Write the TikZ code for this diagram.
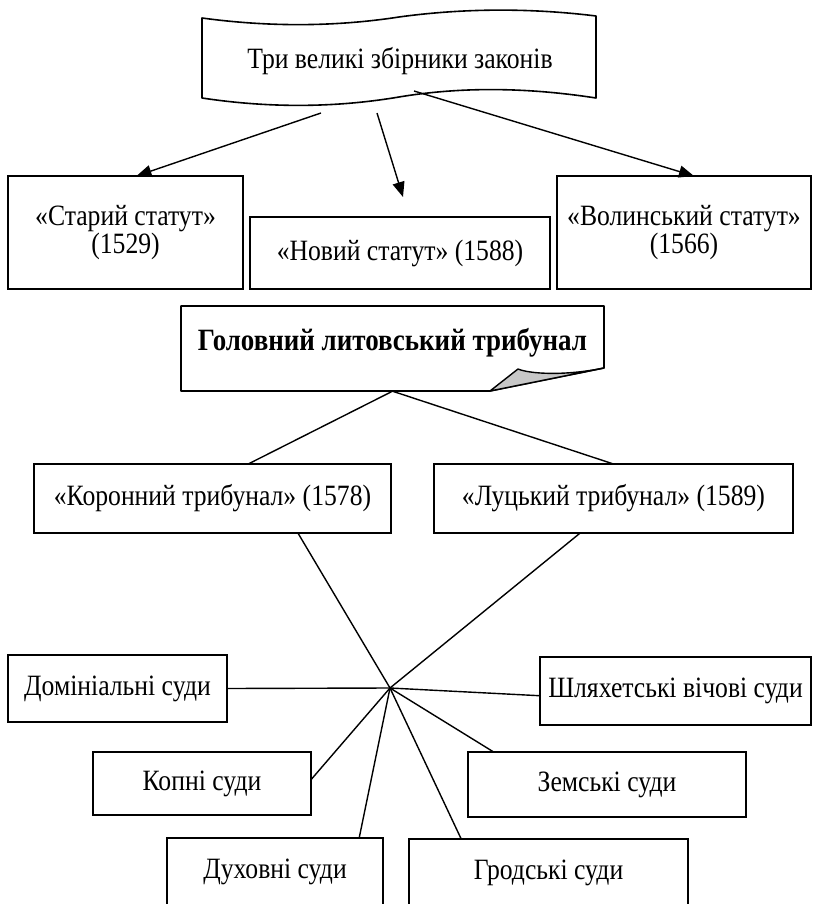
\documentclass[tikz,border=0pt]{standalone}
\usepackage{fontspec}
\setmainfont{Liberation Serif}[FakeStretch=0.87]
\usetikzlibrary{arrows.meta,calc}
\begin{document}
\begin{tikzpicture}[x=1pt,y=-1pt,
  txt/.style={font=\fontsize{29.5}{24}\selectfont, align=center},
  box/.style={draw, line width=1.6pt, rectangle, inner sep=0pt, outer sep=0pt, txt},
  shapeline/.style={line width=1.6pt, line join=round},
  conn/.style={line width=1.4pt},
  arr/.style={line width=1.4pt, -{Triangle[length=15pt,width=12pt]}},
  fold/.style={line width=1.4pt, fill=black!22, line join=round}
]
\useasboundingbox (0,0) rectangle (812,904);

% --- wavy banner
\draw[shapeline] (202,18) .. controls (268,27) and (334,27) .. (399,17)
  .. controls (465,8) and (531,8) .. (596,16) -- (596,98)
  .. controls (531,88) and (465,86) .. (399,97)
  .. controls (334,108) and (268,108) .. (202,98) -- cycle;
\node[txt] (banner) at (400,61) {Три великі збірники законів};

% --- statutes
\node[box, minimum width=235pt, minimum height=113pt] (old) at (125.5,232.5) {«Старий статут»\\(1529)};
\node[box, minimum width=300pt, minimum height=72pt] (new) at (400,253) {«Новий статут» (1588)};
\node[box, minimum width=254pt, minimum height=113pt] (vol) at (684,232.5) {«Волинський статут»\\(1566)};

\coordinate (s1) at (321,113);
\coordinate (s2) at (377,113);
\coordinate (e2) at (403,197);
\coordinate (s3) at (414,91);
\draw[arr] (s1) -- (old.79.5);
\draw[arr] (s2) -- (e2);
\draw[arr] (s3) -- (vol.80);

% --- main tribunal (note with folded corner)
\node[inner sep=0pt, minimum width=423pt, minimum height=96pt, font=\fontsize{31}{24}\selectfont\bfseries] (head) at (392.5,343) {Головний литовський трибунал};
\draw[shapeline] (181,306) -- (604,306) -- (604,368) -- (490,391) -- (181,391) -- cycle;
\draw[fold] (490,391) -- (518,369) .. controls (530,374) and (565,376) .. (604,368) -- cycle;

% --- tribunals
\node[box, minimum width=357pt, minimum height=69pt] (kor) at (212.5,498.5) {«Коронний трибунал» (1578)};
\node[box, minimum width=359pt, minimum height=69pt] (luc) at (613.5,498.5) {«Луцький трибунал» (1589)};
\draw[conn] (head.south) -- (kor.44);
\draw[conn] (head.south) -- (luc.north);

% --- courts
\coordinate (hub) at (390,688);
\node[box, minimum width=219pt, minimum height=67pt] (dom) at (117.5,688.5) {Домініальні суди};
\node[box, minimum width=271pt, minimum height=68pt] (shl) at (675.5,691) {Шляхетські вічові суди};
\node[box, minimum width=218pt, minimum height=63pt] (kop) at (202,783.5) {Копні суди};
\node[box, minimum width=278pt, minimum height=65pt] (zem) at (607,784.5) {Земські суди};
\node[box, minimum width=216pt, minimum height=68pt] (duh) at (275,872) {Духовні суди};
\node[box, minimum width=279pt, minimum height=67pt] (grod) at (548.5,872.5) {Гродські суди};

\draw[conn] (kor.-22) -- (hub);
\draw[conn] (luc.-134) -- (hub);
\draw[conn] (dom.east) -- (hub);
\draw[conn] (hub) -- (shl.182.5);
\draw[conn] (hub) -- (kop.2.4);
\draw[conn] (hub) -- (zem.164.3);
\draw[conn] (hub) -- (duh.22);
\draw[conn] (hub) -- (grod.159.5);
\end{tikzpicture}
\end{document}
